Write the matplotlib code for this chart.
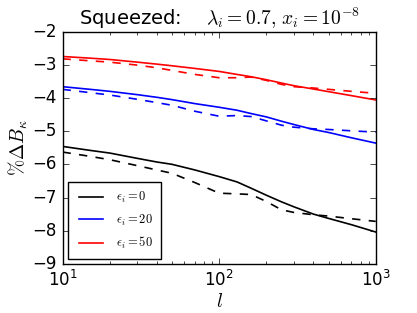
import numpy as np
import matplotlib
matplotlib.use("Agg")
import matplotlib.pyplot as plt

# multipole values and % Delta B_kappa
ell = [10, 15, 20, 30, 40, 50, 70, 100, 130, 160, 200, 250, 300, 400, 500, 700, 1000]

eps0_solid = [-5.46, -5.58, -5.66, -5.82, -5.93, -6.00, -6.17, -6.37, -6.53, -6.72,
              -6.93, -7.13, -7.28, -7.50, -7.63, -7.82, -8.04]
eps0_dash = [-5.63, -5.76, -5.86, -6.04, -6.17, -6.27, -6.55, -6.87, -6.89, -6.91,
             -7.12, -7.37, -7.45, -7.52, -7.56, -7.64, -7.72]
eps20_solid = [-3.66, -3.74, -3.80, -3.90, -3.98, -4.05, -4.17, -4.28, -4.37, -4.47,
               -4.57, -4.70, -4.80, -4.95, -5.04, -5.20, -5.36]
eps20_dash = [-3.74, -3.84, -3.91, -4.04, -4.14, -4.22, -4.40, -4.55, -4.53, -4.56,
              -4.69, -4.82, -4.88, -4.93, -4.95, -4.99, -5.03]
eps50_solid = [-2.75, -2.80, -2.84, -2.92, -2.98, -3.03, -3.11, -3.20, -3.29, -3.36,
               -3.45, -3.55, -3.63, -3.73, -3.81, -3.93, -4.06]
eps50_dash = [-2.82, -2.88, -2.92, -3.01, -3.09, -3.17, -3.29, -3.39, -3.39, -3.37,
              -3.47, -3.59, -3.66, -3.70, -3.74, -3.80, -3.86]

labels = [r'$\epsilon_i=0$', r'$\epsilon_i=20$', r'$\epsilon_i=50$']
colors = ['black', 'blue', 'red']

plt.style.use('classic')
plt.rcParams['figure.facecolor'] = 'white'
plt.rcParams['savefig.facecolor'] = 'white'

fig = plt.figure(figsize=(4.17, 3.13), dpi=100)
ax = fig.add_axes([0.150, 0.157, 0.751, 0.742])

solids = [eps0_solid, eps20_solid, eps50_solid]
dashes = [eps0_dash, eps20_dash, eps50_dash]
for s, d, c, lab in zip(solids, dashes, colors, labels):
    ax.plot(ell, s, color=c, lw=1.2, label=lab)
    ax.plot(ell, d, color=c, lw=1.2, ls='--')

ax.set_xscale('log')
ax.set_xlim(10, 1000)
ax.set_ylim(-9, -2)
ax.set_xlabel(r'$l$', fontsize=14, labelpad=2)
ax.set_ylabel(r'$\%\Delta B_\kappa$', fontsize=14, labelpad=2)
ax.set_title(r'Squeezed:    $\lambda_i=0.7,\, x_i=10^{-8}$', fontsize=14, y=1.0)
ax.tick_params(labelsize=12)

leg = ax.legend(loc='lower left', fontsize=9, handlelength=2.5, borderpad=0.6,
                labelspacing=0.6, borderaxespad=0.4)

fig.savefig('out.png', dpi=100)
